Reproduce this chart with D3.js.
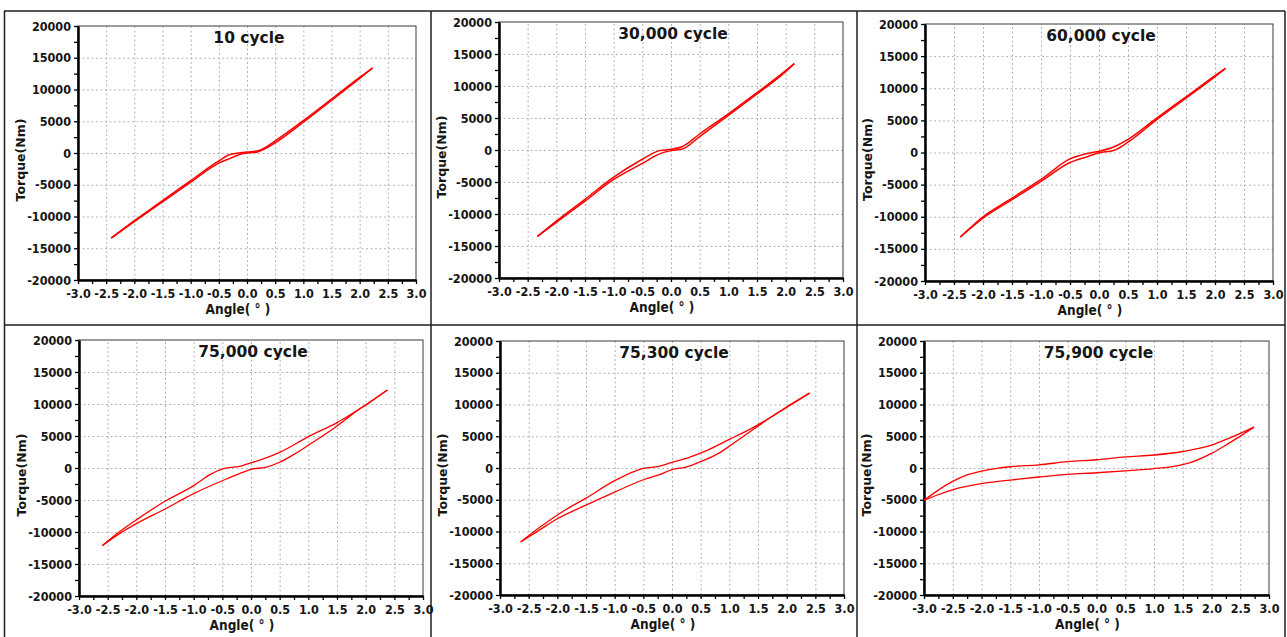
<!DOCTYPE html>
<html>
<head>
<meta charset="utf-8">
<script src="https://cdn.jsdelivr.net/npm/d3@7"></script>
<style>
    body { margin: 0; background: #fff; }
    svg text { font-family: "DejaVu Sans Condensed", "DejaVu Sans", sans-serif; font-weight: bold; fill: #161616; }
    svg text.title, svg text.ylab { font-family: "DejaVu Sans", sans-serif; }
    .grid line { stroke: #b4b4b4; stroke-dasharray: 2,2.5; }
    .grid path { display: none; }
</style>
</head>
<body>
<div id="chart"></div>
<script>

//==================================//
// Data
//

const titles = ['10 cycle', '30,000 cycle', '60,000 cycle', '75,000 cycle', '75,300 cycle', '75,900 cycle']
const xLabel = 'Angle( \u00b0 )'
const yLabel = 'Torque(Nm)'

const xTicks = [-3.0, -2.5, -2.0, -1.5, -1.0, -0.5, 0.0, 0.5, 1.0, 1.5, 2.0, 2.5, 3.0]
const xMinor = [-2.75, -2.25, -1.75, -1.25, -0.75, -0.25, 0.25, 0.75, 1.25, 1.75, 2.25, 2.75]
const yTicks = [-20000, -15000, -10000, -5000, 0, 5000, 10000, 15000, 20000]
const yMinor = [-17500, -12500, -7500, -2500, 2500, 7500, 12500, 17500]

// [angle, torque] - upper branch and lower branch of each loop
const c10Upper = [[-2.41,-13400],[-2.0,-10650],[-1.5,-7500],[-1.0,-4350],[-0.5,-1250],[-0.3,-250],[0,150],[0.2,350],[0.35,1000],[0.5,1900],[1.0,5100],[1.5,8500],[2.0,11900],[2.23,13400]]
const c10Lower = [[-2.41,-13400],[-2.0,-10800],[-1.5,-7700],[-1.0,-4600],[-0.5,-1600],[-0.3,-850],[-0.1,-150],[0.2,200],[0.35,800],[0.5,1600],[1.0,4850],[1.5,8300],[2.0,11750],[2.23,13400]]

const c30kUpper = [[-2.33,-13500],[-2.0,-11100],[-1.5,-7700],[-1.0,-4250],[-0.5,-1450],[-0.2,-100],[0,100],[0.2,550],[0.5,2500],[1.0,5650],[1.5,8950],[2.0,12400],[2.15,13500]]
const c30kLower = [[-2.33,-13500],[-2.0,-11300],[-1.5,-8000],[-1.0,-4600],[-0.5,-2100],[-0.2,-600],[0,-100],[0.2,150],[0.5,2100],[1.0,5400],[1.5,8750],[2.0,12250],[2.15,13500]]

const c60kUpper = [[-2.39,-13150],[-2.0,-10000],[-1.5,-7100],[-1.0,-4200],[-0.5,-1000],[-0.2,-150],[0,200],[0.25,850],[0.5,2050],[1.0,5400],[1.5,8650],[2.0,11950],[2.18,13100]]
const c60kLower = [[-2.39,-13150],[-2.0,-10200],[-1.5,-7350],[-1.0,-4500],[-0.5,-1550],[-0.2,-650],[0,-50],[0.25,300],[0.5,1600],[1.0,5150],[1.5,8450],[2.0,11800],[2.18,13100]]

const c75kUpper = [[-2.59,-12100],[-2.3,-10000],[-2.0,-8100],[-1.5,-5200],[-1.0,-2750],[-0.7,-950],[-0.48,-100],[-0.16,350],[0,800],[0.25,1550],[0.5,2450],[1.0,4900],[1.5,7100],[1.78,8600],[2.03,10050],[2.38,12200]]
const c75kLower = [[-2.59,-12100],[-2.3,-10300],[-2.0,-8700],[-1.5,-6400],[-1.0,-4000],[-0.45,-1800],[-0.22,-950],[0,-200],[0.25,100],[0.5,900],[0.78,2300],[1.0,3550],[1.5,6550],[1.78,8500],[2.03,10000],[2.38,12200]]

const c753Upper = [[-2.64,-11650],[-2.3,-9300],[-1.87,-6650],[-1.5,-4750],[-1.0,-2000],[-0.5,-50],[-0.23,250],[0,880],[0.29,1650],[0.53,2450],[1.0,4500],[1.46,6600],[1.75,8150],[2.0,9600],[2.4,11800]]
const c753Lower = [[-2.64,-11650],[-2.3,-9700],[-2.0,-8000],[-1.5,-5850],[-1.0,-3800],[-0.5,-1850],[-0.23,-1100],[0,-250],[0.23,100],[0.47,900],[0.82,2350],[1.05,3750],[1.46,6350],[1.75,8150],[2.0,9550],[2.4,11800]]

const c759Upper = [[-3.0,-5100],[-2.77,-3600],[-2.51,-2150],[-2.25,-1100],[-2.0,-500],[-1.73,-50],[-1.5,200],[-1.0,500],[-0.5,1000],[0,1300],[0.5,1750],[1.0,2050],[1.5,2600],[2.0,3600],[2.32,4750],[2.74,6450]]
const c759Lower = [[-3.0,-5100],[-2.77,-4250],[-2.48,-3350],[-2.0,-2450],[-1.5,-1900],[-1.0,-1420],[-0.5,-1000],[0,-750],[0.5,-450],[1.0,-100],[1.4,350],[1.63,850],[2.0,2300],[2.32,4000],[2.55,5300],[2.74,6450]]

const loops = [
    [c10Upper, c10Lower],
    [c30kUpper, c30kLower],
    [c60kUpper, c60kLower],
    [c75kUpper, c75kLower],
    [c753Upper, c753Lower],
    [c759Upper, c759Lower],
]

//==================================//
// Layout
//

const svgw = 1287, svgh = 637

// plot areas of the six panels
const boxes = [
    {x: 78,  y: 26,  w: 338, h: 254},
    {x: 499, y: 22,  w: 344, h: 256},
    {x: 925, y: 24,  w: 348, h: 257},
    {x: 79,  y: 340, w: 344, h: 256},
    {x: 500, y: 341, w: 344, h: 254},
    {x: 924, y: 341, w: 345, h: 254},
]

let svg = d3.select('#chart').append('svg')
    .attr('width', svgw)
    .attr('height', svgh)

//====[ cell borders ]====//

let borders = svg.append('g')
    .attr('stroke', '#1e1e1e')
    .attr('stroke-width', 1.5)

borders.append('line').attr('x1', 4).attr('x2', 1285).attr('y1', 11).attr('y2', 11)
borders.append('line').attr('x1', 4).attr('x2', 1285).attr('y1', 325).attr('y2', 325)
;[4.5, 431, 857, 1285].forEach(x => {
    borders.append('line').attr('x1', x).attr('x2', x).attr('y1', 11).attr('y2', svgh)
})

//==================================//
// Panels
//

loops.forEach((loop, i) => {
    let b = boxes[i]
    let g = svg.append('g').attr('transform', 'translate(' + b.x + ',' + b.y + ')')

    let x = d3.scaleLinear().domain([-3, 3]).range([0, b.w])
    let y = d3.scaleLinear().domain([-20000, 20000]).range([b.h, 0])

    //====[ grid ]====//
    g.append('g').classed('grid', true)
        .attr('transform', 'translate(0,' + b.h + ')')
        .call(d3.axisBottom(x).tickValues(xTicks.slice(1, -1)).tickSize(-b.h).tickFormat(''))
    g.append('g').classed('grid', true)
        .call(d3.axisLeft(y).tickValues(yTicks.slice(1, -1)).tickSize(-b.w).tickFormat(''))

    //====[ frame ]====//
    g.append('rect')
        .attr('width', b.w).attr('height', b.h)
        .attr('fill', 'none')
        .attr('stroke', '#3a3a3a')
        .attr('stroke-width', 1)

    //====[ axes ]====//
    g.append('g')
        .attr('transform', 'translate(0,' + b.h + ')')
        .call(d3.axisBottom(x).tickValues(xTicks).tickSize(4).tickSizeOuter(0).tickPadding(5)
            .tickFormat(d => d.toFixed(1)))
    g.append('g')
        .attr('transform', 'translate(0,' + b.h + ')')
        .call(d3.axisBottom(x).tickValues(xMinor).tickSize(4).tickSizeOuter(0).tickFormat(''))

    g.append('g')
        .call(d3.axisLeft(y).tickValues(yTicks).tickSize(4).tickSizeOuter(0).tickPadding(3)
            .tickFormat(d => String(d)))
    g.append('g')
        .call(d3.axisLeft(y).tickValues(yMinor).tickSize(4).tickSizeOuter(0).tickFormat(''))

    g.selectAll('.domain').attr('stroke', '#000').attr('stroke-width', 2)
    g.selectAll('.tick line').filter(function () { return !this.closest('.grid') })
        .attr('stroke', '#000').attr('stroke-width', 1.3)
    g.selectAll('.tick text')
        .attr('font-size', '12.5px')
        .attr('font-family', null)
        .attr('fill', null)

    //====[ titles ]====//
    g.append('text')
        .classed('title', true)
        .attr('x', b.w / 2 + 2)
        .attr('y', 17)
        .attr('text-anchor', 'middle')
        .attr('font-size', '15.5px')
        .text(titles[i])

    g.append('text')
        .attr('x', b.w / 2 - 9)
        .attr('y', b.h + 34)
        .attr('text-anchor', 'middle')
        .attr('font-size', '13.5px')
        .text(xLabel)

    g.append('text')
        .classed('ylab', true)
        .attr('transform', 'translate(-53,' + (b.h / 2 + 7) + ') rotate(-90)')
        .attr('text-anchor', 'middle')
        .attr('font-size', '12.5px')
        .text(yLabel)

    //====[ hysteresis loop ]====//
    let line = d3.line()
        .x(d => x(d[0]))
        .y(d => y(d[1]))
        .curve(d3.curveMonotoneX)

    g.selectAll('path.loop')
        .data(loop)
        .enter()
        .append('path')
        .classed('loop', true)
        .attr('d', line)
        .attr('fill', 'none')
        .attr('stroke', '#ff0000')
        .attr('stroke-width', i < 3 ? 1.5 : 1.3)
})

</script>
</body>
</html>
